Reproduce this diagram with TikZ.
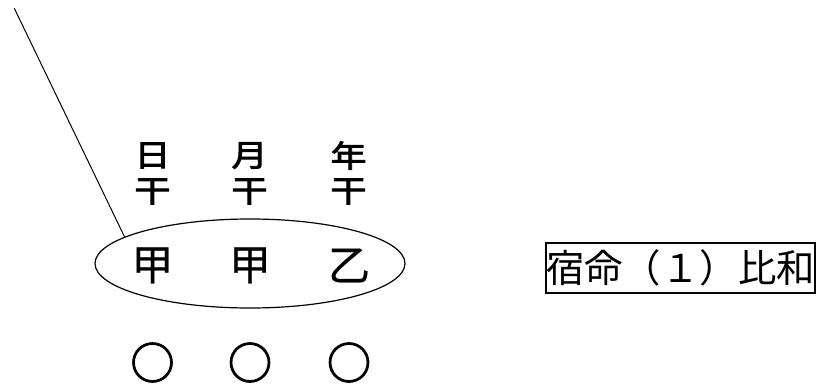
\documentclass[tikz,border=0pt]{standalone}
\usepackage{fontspec}
\usepackage{graphicx}
\newfontfamily\jp{Noto Sans CJK JP}
\newfontfamily\jpm{Noto Sans CJK JP}[FakeBold=0.6]
\newfontfamily\jpb{Noto Sans CJK JP}[FakeBold=2.5]
\usetikzlibrary{shapes.geometric}
\tikzset{
  stem/.style={font=\jpm\fontsize{42}{42}\selectfont, inner sep=0pt},
  lab/.style={font=\jpb\fontsize{36}{36}\selectfont, inner sep=0pt},
  mark0/.style={font=\jpb\fontsize{44}{44}\selectfont, inner sep=0pt},
  ring/.style={draw, ellipse, line width=1.2pt, inner sep=0pt, minimum width=310pt, minimum height=89pt},
  titlebox/.style={draw, line width=1.5pt, font=\jp\fontsize{38.4}{38.4}\selectfont, inner xsep=0pt, inner ysep=0pt, minimum height=50pt},
  pointer/.style={line width=1pt}
}
\begin{document}
\begin{tikzpicture}[x=1pt,y=-1pt]
\useasboundingbox (0,0) rectangle (819,385);
% top labels
\node[lab] (l1a) at (152.5,155.5) {\scalebox{1}[0.85]{日}};
\node[lab] (l1b) at (152.5,191.5) {\scalebox{1}[0.85]{干}};
\node[lab] (l2a) at (249.5,155.5) {\scalebox{1}[0.85]{月}};
\node[lab] (l2b) at (249.5,191.5) {\scalebox{1}[0.85]{干}};
\node[lab] (l3a) at (348.5,155.5) {\scalebox{1}[0.85]{年}};
\node[lab] (l3b) at (348.5,191.5) {\scalebox{1}[0.85]{干}};
% ellipse
\node[ring] (ell) at (250,263.5) {};
\node[stem] (s1) at (152.5,265.5) {甲};
\node[stem] (s2) at (250,265.5) {甲};
\node[stem] (s3) at (349,265.5) {乙};
% pointer line
\coordinate (tip) at (14.3,8.3);
\draw[pointer] (tip) -- (ell.168);
% circles
\node[mark0] (c1) at (152.5,362.5) {○};
\node[mark0] (c2) at (250,362.5) {○};
\node[mark0] (c3) at (349,362.5) {○};
% title box
\node[titlebox] (title) at (680.5,268) {宿命（１）比和};
\end{tikzpicture}
\end{document}
